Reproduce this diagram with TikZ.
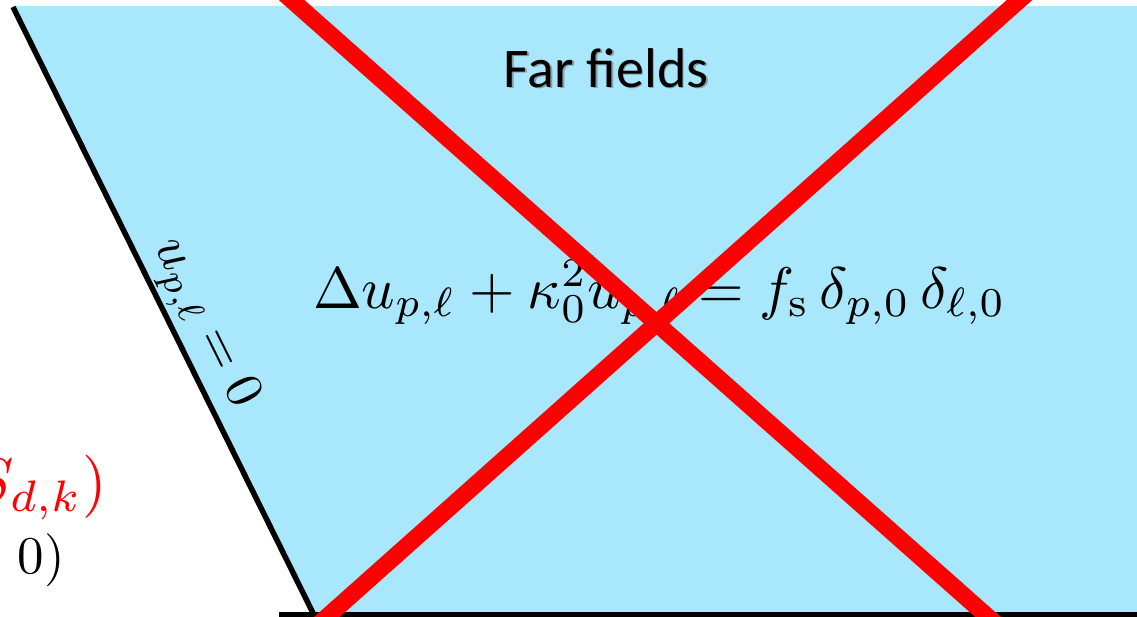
\documentclass[tikz,border=0pt]{standalone}
\usepackage{fontspec}
\newfontfamily\titlefont{Carlito}
\definecolor{skyfill}{RGB}{169,231,253}
\definecolor{crossred}{RGB}{255,0,0}
\tikzset{
  boundary/.style={line width=5.5pt, black},
  crossline/.style={line width=17pt, crossred},
  bigmath/.style={inner sep=0pt, scale=5.86},
  titletext/.style={inner sep=0pt, font=\titlefont\fontsize{56}{66}\selectfont}
}
\begin{document}
\begin{tikzpicture}[x=1pt,y=-1pt]
\useasboundingbox (0,0) rectangle (1137,616);
\clip (0,0) rectangle (1137,616);
% corners
\coordinate (TL) at (13,7);
\coordinate (BL) at (313,613);
\coordinate (TR) at (1137,6);
\coordinate (BR) at (1137,612);
\coordinate (BS) at (279,614.5);
\coordinate (BE) at (1137,614.5);
% region
\fill[skyfill] (12,6) -- (TR) -- (BR) -- (BL) -- cycle;
% boundaries
\draw[boundary] (TL) -- (BL);
\draw[boundary, line width=4.5pt] (BS) -- (BE);
% labels
\node[titletext, text=black!55, opacity=0.6, anchor=base] (shadow) at (607.5,88.5) {Far fields};
\node[titletext, anchor=base] (title) at (606,87) {Far fields};
\node[bigmath, anchor=base] (eq) at (659.5,308) {$\Delta u_{p,\ell} + \kappa_0^2 u_{p,\ell} = f_{\mathrm{s}}\,\delta_{p,0}\,\delta_{\ell,0}$};
\path (TL) -- (BL) node[pos=0.545, sloped, anchor=south, inner sep=0.8pt, scale=5.3] (bc) {$u_{p,\ell} = 0$};
\node[inner sep=0pt, scale=6.3, anchor=base east, text=red] (src) at (108,502) {$S_{d,k})$};
\node[inner sep=0pt, scale=5.3, anchor=base east] (zero) at (66,573) {$0)$};
% cross
\coordinate (A1) at (269,-20);
\coordinate (A2) at (1014,640);
\coordinate (B1) at (1042,-20);
\coordinate (B2) at (301,640);
\draw[crossline] (A1) -- (A2);
\draw[crossline] (B1) -- (B2);
\end{tikzpicture}
\end{document}
